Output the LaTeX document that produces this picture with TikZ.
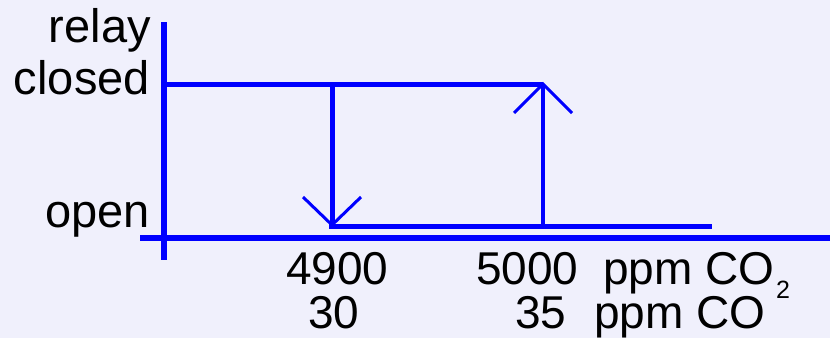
\documentclass[tikz,border=0pt]{standalone}
\usepackage{fontspec}
\setmainfont{Liberation Sans}
\definecolor{bg}{RGB}{240,240,252}
\definecolor{ln}{RGB}{0,0,255}
\begin{document}
\begin{tikzpicture}[x=1pt,y=-1pt,
  axis/.style={ln, line width=5.5pt},
  level/.style={ln, line width=5pt},
  shaft/.style={ln, line width=5pt},
  barb/.style={ln, line width=3pt},
  lab/.style={inner sep=0pt, font=\fontsize{47}{50}\selectfont, anchor=base east},
  num/.style={inner sep=0pt, font=\fontsize{46}{50}\selectfont, anchor=base west},
  subs/.style={inner sep=0pt, font=\fontsize{25}{25}\selectfont, anchor=base west}]
\fill[bg] (0,0) rectangle (830,338);
\useasboundingbox (0,0) rectangle (830,338);
% axes
\coordinate (ytop) at (164,22);
\coordinate (ybot) at (164,260);
\coordinate (xl) at (140,238);
\coordinate (xr) at (830,238);
\draw[axis] (ytop) -- (ybot);
\draw[axis] (xl) -- (xr);
% levels
\coordinate (cl) at (164,84);
\coordinate (cr) at (543,84);
\coordinate (ol) at (329,226.5);
\coordinate (or) at (712,226.5);
\draw[level] (cl) -- (cr);
\draw[level] (ol) -- (or);
% down arrow
\coordinate (dtop) at (332,84);
\coordinate (dtip) at (332,225);
\draw[shaft] (dtop) -- (dtip);
\draw[barb] (dtip) ++(-29,-28) -- (dtip) -- ++(29,-28);
% up arrow
\coordinate (ubot) at (543,226.5);
\coordinate (utip) at (543,84);
\draw[shaft, line width=4.5pt] (ubot) -- (utip);
\draw[barb] (utip) ++(-29,29) -- (utip) -- ++(29,29);
% labels
\node[lab] (relay) at (151,42) {relay};
\node[lab] (closed) at (150,94) {closed};
\node[lab] (open) at (150,227) {open};
\node[num] (n4900) at (286,284) {4900};
\node[num] (n30) at (308,328) {30};
\node[num] (n5000) at (476,284) {5000};
\node[num] (ppm1) at (603,284) {ppm CO};
\node[subs] (sub2) at (776,298) {2};
\node[num] (n35) at (515,328) {35};
\node[num] (ppm2) at (594,328) {ppm CO};
\end{tikzpicture}
\end{document}
